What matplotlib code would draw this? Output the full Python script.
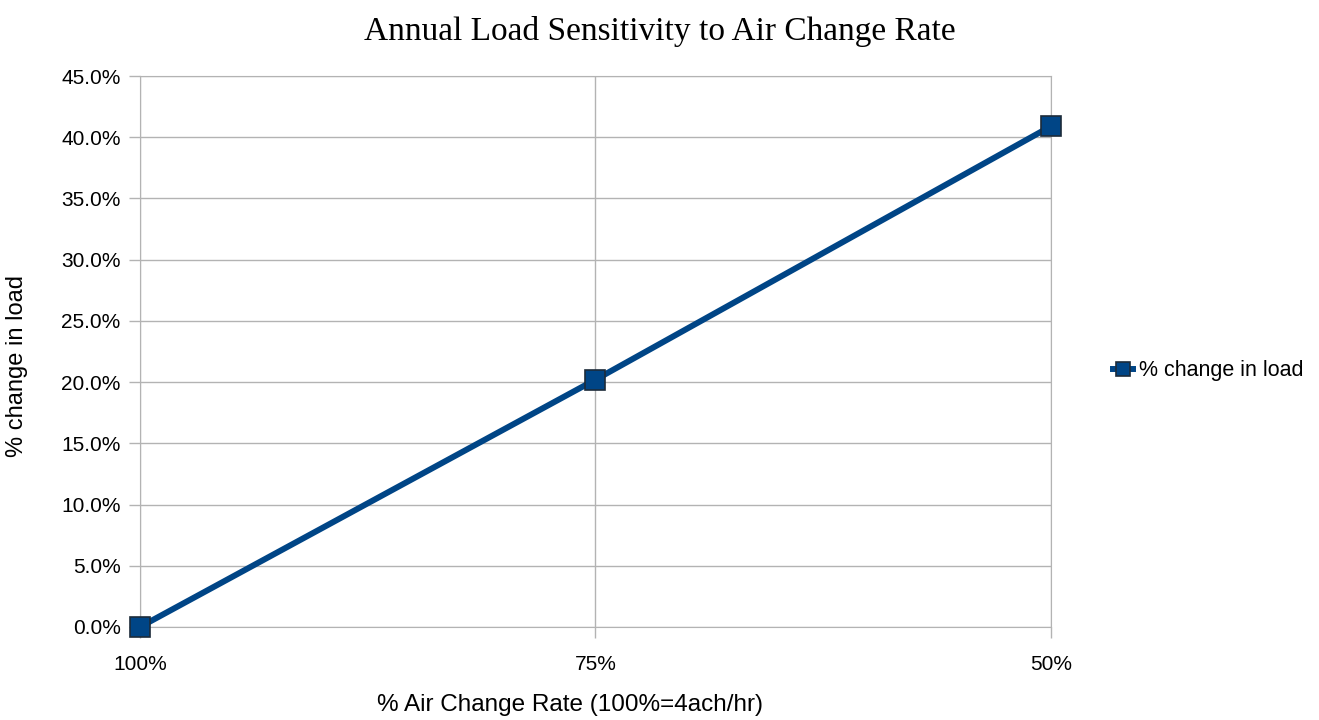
import matplotlib.pyplot as plt
from matplotlib.ticker import PercentFormatter

# air change rate cases and resulting change in annual load
categories = ["100%", "75%", "50%"]
load_change = [0.0, 20.2, 40.9]

grid_color = "#b3b3b3"
line_color = "#004586"

plt.rcParams["font.family"] = ["Liberation Sans", "DejaVu Sans"]

fig = plt.figure(figsize=(13.19, 7.2), dpi=100)
ax = fig.add_axes([0.1061, 0.1292, 0.6907, 0.7652])

x = list(range(len(categories)))
ax.plot(x, load_change, color=line_color, linewidth=4.3, marker="s",
        markersize=15, markerfacecolor=line_color, markeredgecolor="#1c2b3a",
        markeredgewidth=1.2, label="% change in load", zorder=3, clip_on=False)

ax.set_xlim(0, 2)
ax.set_ylim(0, 45)
ax.set_xticks(x)
ax.set_xticklabels(categories)
ax.set_yticks([i * 5 for i in range(10)])
ax.yaxis.set_major_formatter(PercentFormatter(decimals=1))

ax.grid(True, color=grid_color, linewidth=1)
ax.set_axisbelow(True)
for s in ax.spines.values():
    s.set_color(grid_color)
ax.tick_params(axis="both", colors=grid_color, labelcolor="black",
               labelsize=15, length=8, width=1)
ax.tick_params(axis="x", pad=12)
ax.tick_params(axis="y", pad=6)

fig.text(0.432, 0.021, "% Air Change Rate (100%=4ach/hr)", fontsize=17.5,
         ha="center", va="center")
fig.text(0.013, 0.491, "% change in load", fontsize=17, rotation=90,
         ha="center", va="center")
fig.suptitle("Annual Load Sensitivity to Air Change Rate",
             family="Liberation Serif", fontsize=24, y=0.978)

ax.legend(loc="center left", bbox_to_anchor=(1.047, 0.465), frameon=False,
          fontsize=15.5, handlelength=0.9, handletextpad=0.3, markerscale=0.7)

plt.savefig("out.png")
